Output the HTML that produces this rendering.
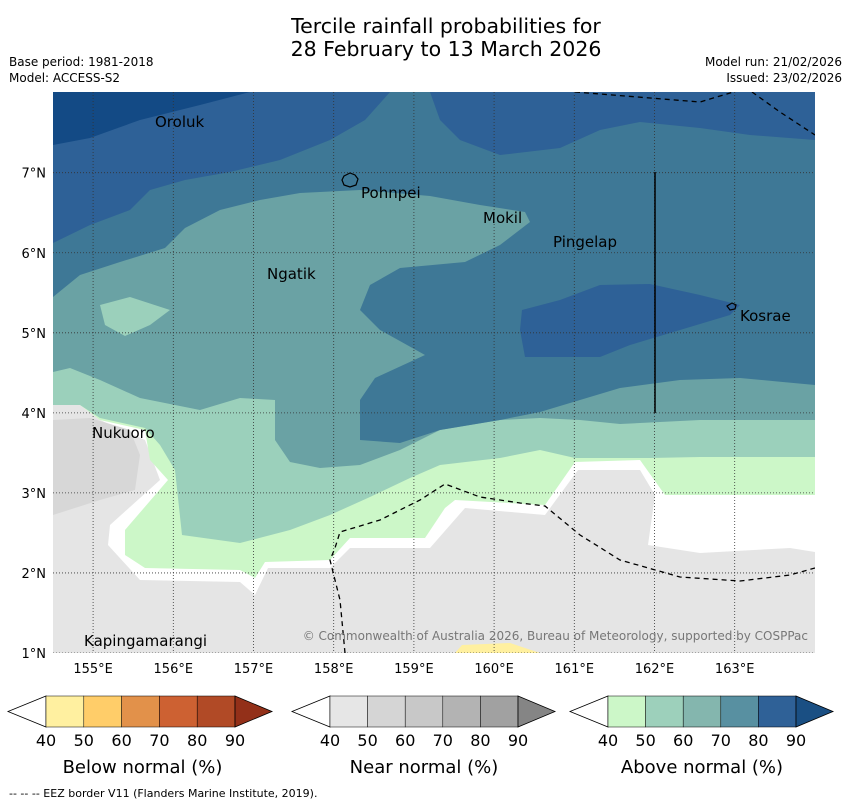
<!DOCTYPE html>
<html><head><meta charset="utf-8"><style>
body{margin:0;background:#fff;font-family:"Liberation Sans","DejaVu Sans",sans-serif;}
svg text{font-family:"DejaVu Sans","Liberation Sans",sans-serif;}
</style></head><body>
<svg id="root" width="850" height="804" viewBox="0 0 850 804" xmlns="http://www.w3.org/2000/svg">
<text x="446" y="33" text-anchor="middle" font-size="20.5">Tercile rainfall probabilities for</text>
<text x="446" y="56" text-anchor="middle" font-size="20.5">28 February to 13 March 2026</text>
<text x="9" y="66" font-size="12">Base period: 1981-2018</text>
<text x="9" y="82" font-size="12">Model: ACCESS-S2</text>
<text x="842" y="66" font-size="12" text-anchor="end">Model run: 21/02/2026</text>
<text x="842" y="82" font-size="12" text-anchor="end">Issued: 23/02/2026</text>
<defs><clipPath id="mc"><rect x="53" y="92" width="762" height="561"/></clipPath></defs>
<g clip-path="url(#mc)">
<rect x="53" y="92" width="762" height="561" fill="#e5e5e5"/>
<polygon fill="#ffffff" points="53,92 815,92 815,552 790,548 700,553 648,545 655,495 640,470 578,470 545,515 465,508 430,548 350,548 330,568 268,568 255,595 240,582 140,580 108,545 110,525 160,480 145,440 100,420 80,405 53,405"/>
<polygon fill="#d7d7d7" points="53,420 90,418 130,430 140,455 135,490 100,500 53,515"/>
<polygon fill="#fff0a0" points="455,653 462,645 510,643 540,653"/>
<polygon fill="#ccf7c8" points="53,92 815,92 815,495 665,495 640,460 575,462 545,505 455,500 445,508 425,538 350,538 330,560 265,562 255,578 240,570 145,568 125,555 125,530 168,480 150,460 145,430 100,420 80,405 53,405"/>
<polygon fill="#9bd0bb" points="53,92 815,92 815,457 700,457 650,458 575,458 540,450 500,458 440,465 410,478 370,497 330,515 290,530 240,543 182,535 175,470 160,445 145,428 100,418 80,405 53,405"/>
<polygon fill="#6aa2a4" points="53,92 815,92 815,420 700,420 620,424 580,420 540,418 500,420 440,430 400,450 360,465 320,468 290,462 275,440 275,400 240,398 200,410 140,398 100,380 70,368 53,372"/>
<polygon fill="#9bd0bb" points="100,305 130,297 170,310 150,325 125,336 105,325"/>
<polygon fill="#3e7896" points="53,92 815,92 815,385 740,378 680,380 620,388 580,400 540,412 500,420 440,430 400,443 360,440 360,400 375,378 425,355 380,330 360,310 370,285 400,268 465,262 500,245 530,222 525,212 480,205 430,196 360,190 300,193 260,200 220,210 185,228 165,248 120,262 80,275 53,297"/>
<polygon fill="#2e6197" points="53,92 390,92 365,120 330,140 280,160 230,172 185,180 150,190 130,210 90,225 53,243"/>
<polygon fill="#2e6197" points="430,92 815,92 815,140 750,135 700,128 640,122 600,130 560,148 500,155 460,140 440,120"/>
<polygon fill="#2e6197" points="522,310 560,300 600,285 650,284 700,295 740,305 730,315 680,330 630,345 600,357 525,357 520,330"/>
<polygon fill="#134a85" points="53,92 250,92 200,105 140,120 90,138 53,145"/>
<g id="grid"></g>
<polyline fill="none" stroke="#000" stroke-width="1.3" stroke-dasharray="5,4" points="575,92 700,102 740,90"/>
<polyline fill="none" stroke="#000" stroke-width="1.3" stroke-dasharray="5,4" points="752,92 780,112 815,135"/>
<polyline fill="none" stroke="#000" stroke-width="1.3" stroke-dasharray="5,4" points="345,653 340,600 330,560 335,548 340,532 380,520 420,500 445,484 480,497 520,503 545,506 580,535 620,560 680,577 740,581 790,575 815,568"/>
<line x1="655" y1="172" x2="655" y2="413" stroke="#000" stroke-width="1.5"/>
<path d="M344,176 l6,-3 5,2 3,4 -2,6 -6,2 -6,-2 -2,-5z" fill="none" stroke="#000" stroke-width="1.2"/>
<path d="M727,306 l5,-3 4,2 -1,4 -5,1z" fill="none" stroke="#000" stroke-width="1.2"/>
<text x="155" y="127" font-size="15">Oroluk</text>
<text x="361" y="198" font-size="15">Pohnpei</text>
<text x="483" y="223" font-size="15">Mokil</text>
<text x="553" y="247" font-size="15">Pingelap</text>
<text x="267" y="279" font-size="15">Ngatik</text>
<text x="740" y="321" font-size="15">Kosrae</text>
<text x="92" y="438" font-size="15">Nukuoro</text>
<text x="84" y="646" font-size="15">Kapingamarangi</text>
<text x="808" y="640" font-size="12" fill="#777" text-anchor="end">© Commonwealth of Australia 2026, Bureau of Meteorology, supported by COSPPac</text>
</g>
<g id="axes"></g>
<g id="bars"></g>
<text x="9" y="797" font-size="11">--  --  -- EEZ border V11 (Flanders Marine Institute, 2019).</text>
</svg>
<script>
var lonTicks=[155,156,157,158,159,160,161,162,163];
var latTicks=[1,2,3,4,5,6,7];
var barTicks=[40,50,60,70,80,90];
var barTitles=["Below normal (%)","Near normal (%)","Above normal (%)"];
var belowColors=["#fff0a0","#ffcd69","#e2914a","#cd6132","#b14a26","#933019"];
var nearColors=["#e6e6e6","#d5d5d5","#c8c8c8","#b3b3b3","#a1a1a1","#858585"];
var aboveColors=["#ccf7c8","#9dd0bb","#84b6ae","#5890a1","#2f6197","#1a4f83"];
var NS="http://www.w3.org/2000/svg";
function mk(t,a,p){var e=document.createElementNS(NS,t);for(var k in a)e.setAttribute(k,a[k]);p.appendChild(e);return e;}
function xLon(l){return 53+(l-154.5)*80.2;}
function yLat(l){return 653-(l-1)*80.05;}
var grid=document.getElementById('grid'),axes=document.getElementById('axes');
lonTicks.forEach(function(l){
 var g=mk('line',{x1:xLon(l),x2:xLon(l),y1:92,y2:653,stroke:'#333','stroke-width':0.8,'stroke-dasharray':'1,2'},grid);
 
 
 var t=mk('text',{x:xLon(l),y:673,'text-anchor':'middle','font-size':13},axes);
 t.textContent=l+'°E';
 
 
});
latTicks.forEach(function(l){
 var g=mk('line',{x1:53,x2:815,y1:yLat(l),y2:yLat(l),stroke:'#333','stroke-width':0.8,'stroke-dasharray':'1,2'},grid);
 
 
 var t=mk('text',{x:46,y:yLat(l)+5,'text-anchor':'end','font-size':13},axes);
 t.textContent=l+'°N';
 
 
});
var bars=document.getElementById('bars');
function colorbar(x0,w,cols,title,idx){
 var y=696,h=31,n=cols.length-1;
 var lt=mk('polygon',{points:(x0-38)+','+(y+h/2)+' '+x0+','+y+' '+x0+','+(y+h),fill:'#fff',stroke:'#000','stroke-width':0.8},bars);
 
 
 for(var i=0;i<n;i++){
  var r=mk('rect',{x:x0+i*w,y:y,width:w,height:h,fill:cols[i],stroke:'#000','stroke-width':0.5},bars);
  
  
 }
 var xe=x0+n*w;
 var rt=mk('polygon',{points:xe+','+y+' '+(xe+37)+','+(y+h/2)+' '+xe+','+(y+h),fill:cols[n],stroke:'#000','stroke-width':0.8},bars);
 
 
 barTicks.forEach(function(v,i){
  var t=mk('text',{x:x0+i*w,y:746,'text-anchor':'middle','font-size':16},bars);
  t.textContent=v;
  
  
 });
 var tt=mk('text',{x:x0+n*w/2+(idx==0?2:0),y:773,'text-anchor':'middle','font-size':18},bars);
 tt.textContent=title;
 
 
}
colorbar(46,37.8,belowColors,barTitles[0],0);
colorbar(330,37.6,nearColors,barTitles[1],1);
colorbar(608,37.6,aboveColors,barTitles[2],2);
</script>
</body></html>
